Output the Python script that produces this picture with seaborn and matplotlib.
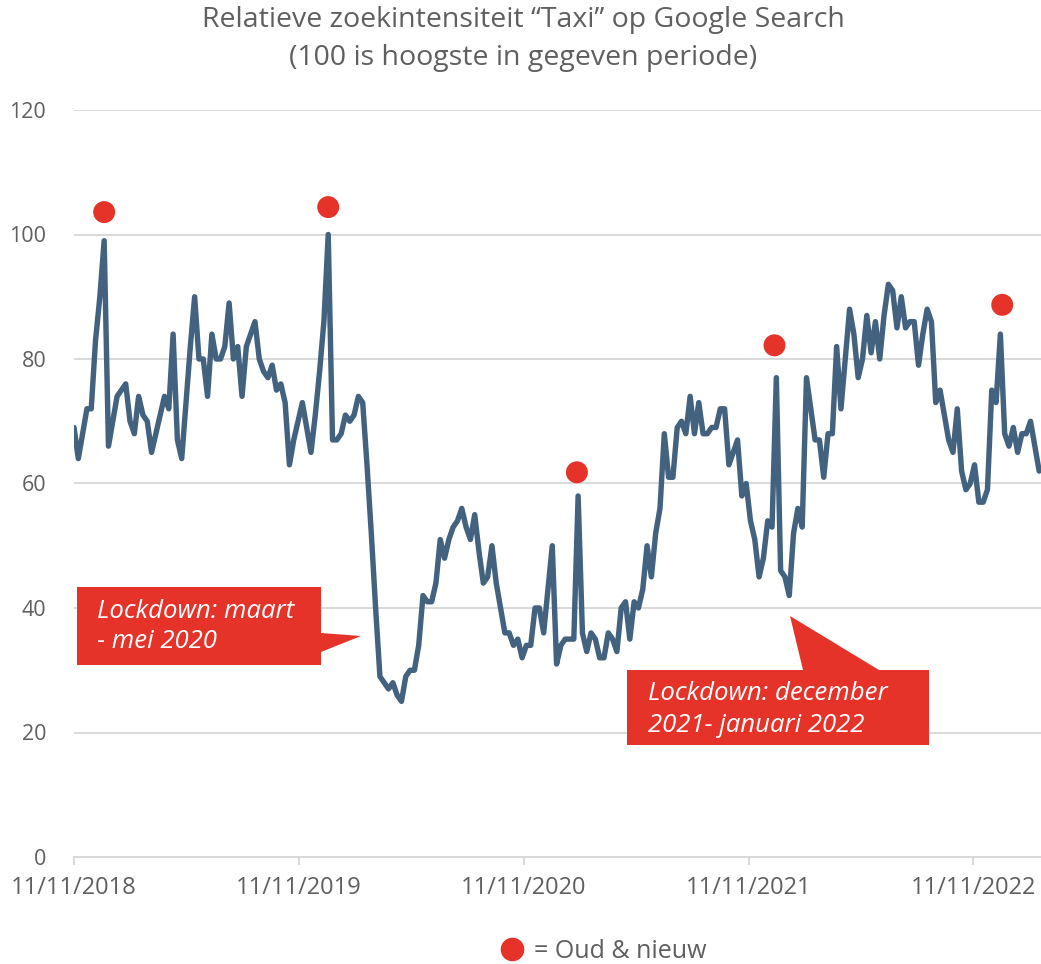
import matplotlib
matplotlib.use("Agg")
import matplotlib.pyplot as plt
from matplotlib.patches import Polygon
from matplotlib.lines import Line2D
import pandas as pd
import seaborn as sns

# weekly Google Trends values for "Taxi", starting 11/11/2018
zoekintensiteit = [
    69, 64, 68, 72, 72, 83, 90, 99, 66, 70,
    74, 75, 76, 70, 68, 74, 71, 70, 65, 68,
    71, 74, 72, 84, 67, 64, 73, 82, 90, 80,
    80, 74, 84, 80, 80, 82, 89, 80, 82, 74,
    82, 84, 86, 80, 78, 77, 79, 75, 76, 73,
    63, 67, 70, 73, 69, 65, 71, 78, 86, 100,
    67, 67, 68, 71, 70, 71, 74, 73, 63, 52,
    40, 29, 28, 27, 28, 26, 25, 29, 30, 30,
    34, 42, 41, 41, 44, 51, 48, 51, 53, 54,
    56, 53, 51, 55, 49, 44, 45, 50, 44, 40,
    36, 36, 34, 35, 32, 34, 34, 40, 40, 36,
    43, 50, 31, 34, 35, 35, 35, 58, 36, 33,
    36, 35, 32, 32, 36, 35, 33, 40, 41, 35,
    41, 40, 43, 50, 45, 52, 56, 68, 61, 61,
    69, 70, 68, 74, 68, 73, 68, 68, 69, 69,
    72, 72, 63, 65, 67, 58, 60, 54, 51, 45,
    48, 54, 53, 77, 46, 45, 42, 52, 56, 53,
    77, 72, 67, 67, 61, 68, 68, 82, 72, 80,
    88, 84, 77, 80, 87, 81, 86, 80, 87, 92,
    91, 85, 90, 85, 86, 86, 79, 84, 88, 86,
    73, 75, 71, 67, 65, 72, 62, 59, 60, 63,
    57, 57, 59, 75, 73, 84, 68, 66, 69, 65,
    68, 68, 70, 66, 62,
]
start_datum = "2018-11-11"

# red markers for New Year's Eve
oud_nieuw_datums = ["2018-12-30", "2019-12-29", "2021-02-05", "2021-12-23", "2022-12-28"]
oud_nieuw_waarden = [103.6, 104.4, 61.8, 82.2, 88.7]

tick_datums = ["2018-11-11", "2019-11-11", "2020-11-11", "2021-11-11", "2022-11-11"]
tick_labels = ["11/11/2018", "11/11/2019", "11/11/2020", "11/11/2021", "11/11/2022"]

df = pd.DataFrame({
    "datum": pd.date_range(start_datum, periods=len(zoekintensiteit), freq="7D"),
    "waarde": zoekintensiteit,
})
dots = pd.DataFrame({"datum": pd.to_datetime(oud_nieuw_datums), "waarde": oud_nieuw_waarden})

W, H = 1041, 964
LIJN = "#43627f"
ROOD = "#e5332a"
GRIJS = "#5f5f5f"

sns.set_theme(style="white")
plt.rcParams["font.family"] = ["Open Sans", "DejaVu Sans"]

fig = plt.figure(figsize=(W / 100, H / 100), dpi=100)
ax = fig.add_axes([74 / W, 1 - 857 / H, 1 - 74 / W, (857 - 110) / H])

sns.lineplot(data=df, x="datum", y="waarde", ax=ax, color=LIJN, linewidth=3.9,
             solid_joinstyle="round", solid_capstyle="round")
sns.scatterplot(data=dots, x="datum", y="waarde", ax=ax, color=ROOD, s=250,
                edgecolor="none", zorder=5, clip_on=False)

ax.set_ylim(0, 120)
ax.set_yticks(range(0, 121, 20))
ax.set_xlim(pd.Timestamp(start_datum), pd.Timestamp("2023-03-01"))
ax.set_xticks(pd.to_datetime(tick_datums))
ax.set_xticklabels(tick_labels)
ax.set_xlabel("")
ax.set_ylabel("")

ax.yaxis.grid(True, color="#d9d9d9", linewidth=1.4)
ax.xaxis.grid(False)
for kant in ["left", "right", "top"]:
    ax.spines[kant].set_visible(False)
ax.spines["bottom"].set_color("#d9d9d9")
ax.spines["bottom"].set_linewidth(1.4)
ax.tick_params(axis="y", length=0, pad=20, labelsize=15.5, labelcolor=GRIJS)
ax.tick_params(axis="x", direction="out", length=6, width=1.4, color="#d9d9d9",
               pad=8, labelsize=17, labelcolor=GRIJS, bottom=True)

# title
fig.text(523 / W, 1 - 20 / H, "Relatieve zoekintensiteit \u201cTaxi\u201d op Google Search",
         ha="center", va="center", fontsize=20.5, color=GRIJS)
fig.text(523 / W, 1 - 58 / H, "(100 is hoogste in gegeven periode)",
         ha="center", va="center", fontsize=20.5, color=GRIJS)


def fxy(x, y):
    return (x / W, 1 - y / H)


# callout boxes
callouts = [
    ([(77, 587), (321, 587), (321, 633), (361, 636), (321, 652), (321, 665), (77, 665)],
     (97, 612), (97, 642), "Lockdown: maart", "- mei 2020"),
    ([(627, 670), (803, 670), (790, 616), (879, 670), (929, 670), (929, 745), (627, 745)],
     (648, 694), (648, 725), "Lockdown: december", "2021- januari 2022"),
]
for pts, p1, p2, t1, t2 in callouts:
    fig.add_artist(Polygon([fxy(*p) for p in pts], closed=True, transform=fig.transFigure,
                           facecolor=ROOD, edgecolor="none", zorder=3))
    fig.text(*fxy(*p1), t1, ha="left", va="center", fontsize=18.5, style="italic",
             color="white", zorder=4)
    fig.text(*fxy(*p2), t2, ha="left", va="center", fontsize=18.5, style="italic",
             color="white", zorder=4)

# legend
handle = Line2D([], [], marker="o", linestyle="", color=ROOD, markersize=16)
fig.legend([handle], ["= Oud & nieuw"], loc="center", bbox_to_anchor=(603 / W, 1 - 951 / H),
           frameon=False, fontsize=18, labelcolor=GRIJS, handletextpad=0.35,
           handlelength=1.0, borderpad=0)

fig.savefig("out.png", dpi=100, facecolor="white")
